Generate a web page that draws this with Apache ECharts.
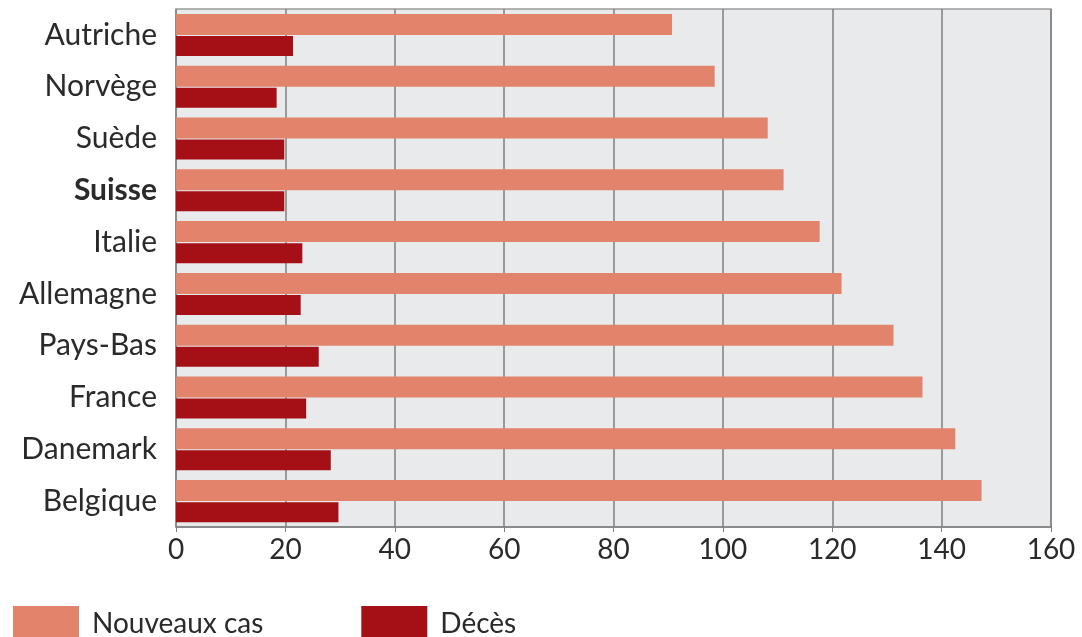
<!DOCTYPE html>
<html>
<head>
<meta charset="utf-8">
<script src="https://cdn.jsdelivr.net/npm/echarts@6/dist/echarts.min.js"></script>
<style>
  html, body { margin: 0; padding: 0; background: #fff; }
  #chart { width: 1082px; height: 637px; }
</style>
</head>
<body>
<div id="chart"></div>
<script>
// Countries, top to bottom
const countries = ['Autriche', 'Norvège', 'Suède', 'Suisse', 'Italie', 'Allemagne', 'Pays-Bas', 'France', 'Danemark', 'Belgique'];
// New cases and deaths per country
const nouveauxCas = [90.7, 98.5, 108.2, 111.1, 117.7, 121.7, 131.2, 136.5, 142.5, 147.3];
const deces = [21.4, 18.4, 19.8, 19.8, 23.1, 22.8, 26.1, 23.8, 28.3, 29.7];
const seriesNames = ['Nouveaux cas', 'Décès'];
const highlighted = 'Suisse';

const FONT = 'Lato, "Open Sans", sans-serif';
const chart = echarts.init(document.getElementById('chart'));

chart.setOption({
  animation: false,
  textStyle: { fontFamily: FONT },
  grid: {
    left: 176, right: 31, top: 9, bottom: 110,
    show: true, backgroundColor: '#e9eaec', borderColor: '#9a9a9a', borderWidth: 1.5
  },
  legend: {
    left: 8, top: 601,
    itemWidth: 66, itemHeight: 36, itemGap: 98,
    icon: 'rect',
    textStyle: { fontFamily: FONT, fontSize: 28, color: '#2a2a2a', padding: [0, 0, 0, 8] },
    data: seriesNames
  },
  xAxis: {
    type: 'value', min: 0, max: 160, interval: 20,
    axisLine: { show: true, lineStyle: { color: '#7f7f7f', width: 1.5 } },
    axisTick: { show: true, length: 5, lineStyle: { color: '#7f7f7f' } },
    splitLine: { show: true, lineStyle: { color: '#7f7f7f', width: 1.5 } },
    axisLabel: { fontFamily: FONT, fontSize: 28, color: '#2a2a2a', margin: 9 }
  },
  yAxis: {
    type: 'category', data: countries, inverse: true,
    axisLine: { show: false }, axisTick: { show: false },
    axisLabel: {
      margin: 19, fontFamily: FONT, fontSize: 30, color: '#2a2a2a',
      formatter: v => v === highlighted ? '{b|' + v + '}' : v,
      rich: { b: { fontFamily: FONT, fontSize: 30, fontWeight: 'bold', color: '#2a2a2a' } }
    }
  },
  series: [
    {
      name: seriesNames[0], type: 'bar', data: nouveauxCas,
      itemStyle: { color: '#e2836b' },
      barWidth: 21, barGap: '5%'
    },
    {
      name: seriesNames[1], type: 'bar', data: deces,
      itemStyle: { color: '#a50f16' },
      barWidth: 20, barGap: '5%'
    }
  ]
});
</script>
</body>
</html>
